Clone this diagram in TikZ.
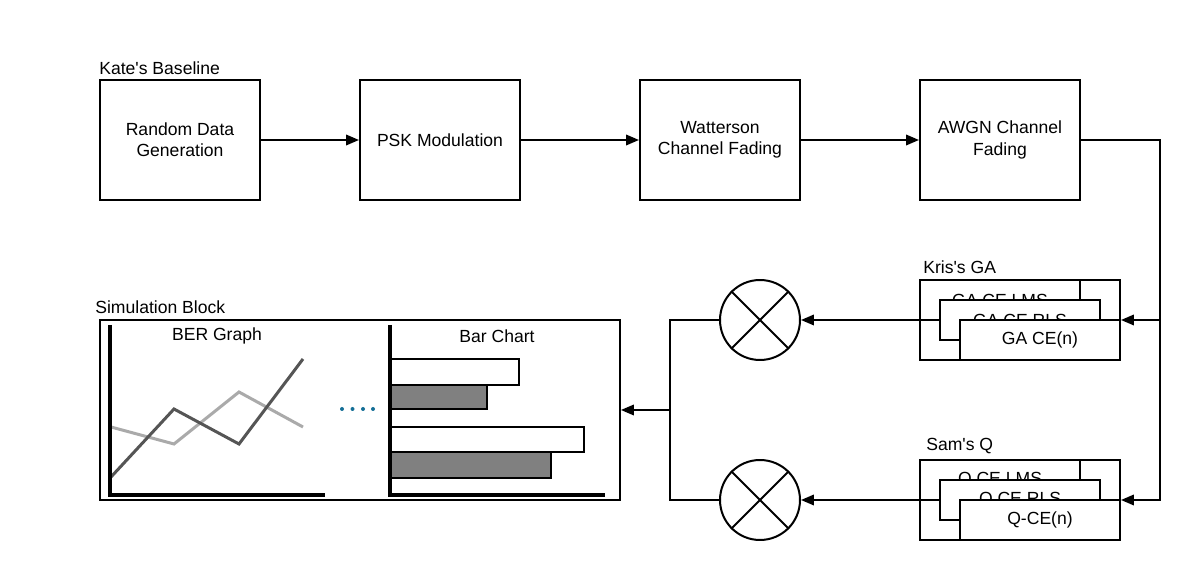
\documentclass[tikz,border=0pt]{standalone}
\usepackage{fontspec}
\setmainfont{Liberation Sans}
\usetikzlibrary{arrows.meta}
\definecolor{dotblue}{RGB}{20,110,150}
\definecolor{darkline}{RGB}{85,85,85}
\definecolor{lightline}{RGB}{170,170,170}
\definecolor{barfill}{RGB}{128,128,128}

\begin{document}
\begin{tikzpicture}[x=0.02cm, y=-0.02cm,
        every node/.style={font=\fontsize{10}{12}\selectfont},
        block/.style={draw, line width=0.4mm, fill=white, minimum width=3.2cm, minimum height=2.4cm, align=center},
        subblock/.style={draw, line width=0.4mm, fill=white, minimum width=3.2cm, minimum height=0.8cm, inner sep=0pt},
        group/.style={draw, line width=0.4mm, minimum width=4cm, minimum height=1.6cm},
        title/.style={anchor=west, inner sep=0pt},
        mixer/.style={draw, circle, line width=0.4mm, minimum size=1.6cm, inner sep=0pt},
        wire/.style={line width=0.4mm},
        arr/.style={line width=0.4mm, -{Triangle[length=0.26cm, width=0.21cm]}},
        axis/.style={line width=0.7mm},
        bar/.style={draw, line width=0.45mm},
    ]
            \useasboundingbox (0,0) rectangle (1201,580);

            % baseline chain
            \node[title] (kate) at (99, 68)    {Kate\textquotesingle s Baseline};
            \node[block] (RDG)  at (180, 140)  {Random Data\\Generation};
            \node[block] (PSK)  at (440, 140)  {PSK Modulation};
            \node[block] (WCF)  at (720, 140)  {Watterson\\Channel Fading};
            \node[block] (AWGN) at (1000, 140) {AWGN Channel\\Fading};

            \draw[arr] (RDG) -- (PSK);
            \draw[arr] (PSK) -- (WCF);
            \draw[arr] (WCF) -- (AWGN);

            % Kris's GA
            \node[title]    (kris) at (923, 267)  {Kris\textquotesingle s GA};
            \node[group]    (GA)   at (1020, 320) {};
            \node[subblock] (GA1)  at (1000, 300) {GA CE LMS};
            \node[subblock] (GA2)  at (1020, 320) {GA CE RLS};
            \node[subblock] (GA3)  at (1040, 340) {GA CE(n)};

            % Sam's Q
            \node[title]    (sam) at (926, 446)  {Sam\textquotesingle s Q};
            \node[group]    (Q)   at (1020, 500) {};
            \node[subblock] (Q1)  at (1000, 480) {Q CE LMS};
            \node[subblock] (Q2)  at (1020, 500) {Q CE RLS};
            \node[subblock] (Q3)  at (1040, 520) {Q-CE(n)};

            \coordinate (tap) at (1160, 320);
            \draw[arr] (AWGN.east) -| (tap) -- (GA.east);
            \draw[arr] (tap) |- (Q.east);

            % mixers
            \node[mixer] (MGA) at (760, 320) {};
            \node[mixer] (MQ)  at (760, 500) {};
            \draw[wire] (MGA.north west) -- (MGA.south east);
            \draw[wire] (MGA.north east) -- (MGA.south west);
            \draw[wire] (MQ.north west) -- (MQ.south east);
            \draw[wire] (MQ.north east) -- (MQ.south west);

            \draw[arr] (GA.west) -- (MGA.east);
            \draw[arr] (Q.west) -- (MQ.east);

            % simulation block
            \node[title] (simlbl) at (95, 307) {Simulation Block};
            \node[draw, line width=0.4mm, minimum width=10.4cm, minimum height=3.6cm] (SIM) at (360, 410) {};

            \coordinate (join) at (670, 410);
            \draw[wire] (MGA.west) -| (join) |- (MQ.west);
            \draw[arr] (join) -- (SIM.east);

            % BER graph
            \node (ber) at (217, 336) {BER Graph};
            \draw[lightline, line width=0.6mm] (111, 427) -- (174, 444) -- (239, 392) -- (303, 427);
            \draw[darkline, line width=0.6mm] (111, 477) -- (174, 409) -- (239, 444) -- (303, 359);
            \draw[axis] (110, 325) -- (110, 495) -- (325, 495);

            % dots
            \foreach \x in {342, 352.5, 363, 373}
                \fill[dotblue] (\x, 409) circle (0.04cm);

            % bar chart
            \node (barlbl) at (497, 336) {Bar Chart};
            \draw[bar, fill=white]   (390, 359) rectangle (519, 385);
            \draw[bar, fill=barfill] (390, 385) rectangle (487, 409);
            \draw[bar, fill=white]   (390, 427) rectangle (584, 452);
            \draw[bar, fill=barfill] (390, 452) rectangle (551, 478);
            \draw[axis] (390, 325) -- (390, 495) -- (605, 495);
        \end{tikzpicture}
\end{document}
